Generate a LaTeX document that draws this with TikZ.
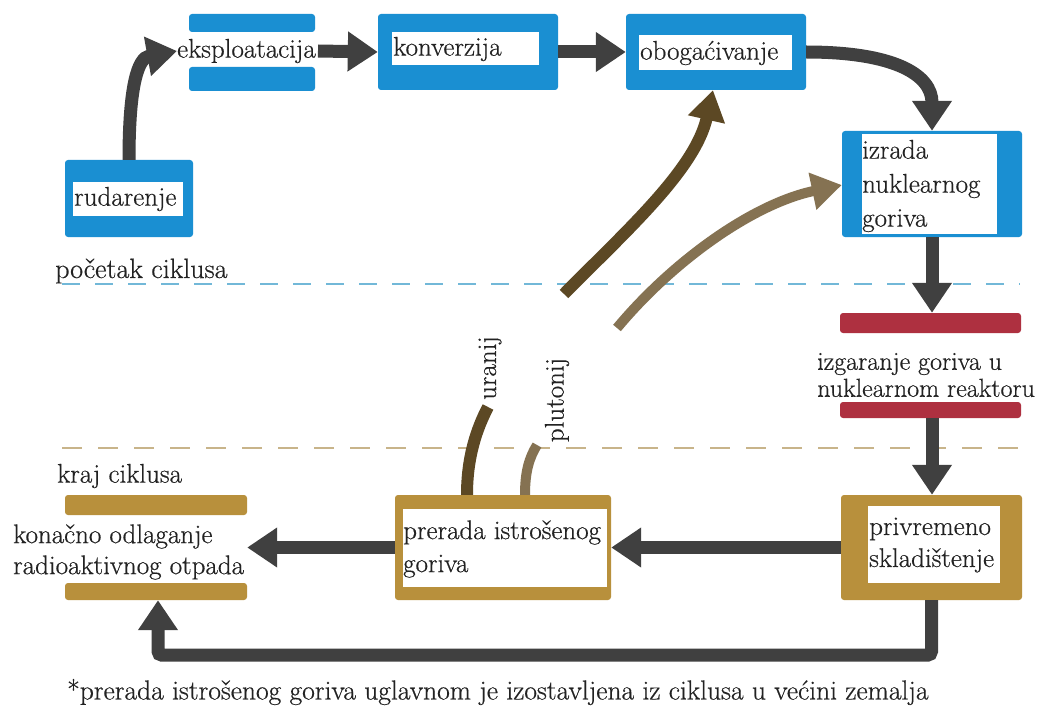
\documentclass[tikz,border=0pt]{standalone}
\usepackage{fontspec}
\setmainfont{Latin Modern Roman}[FakeBold=0.5]
\usetikzlibrary{arrows.meta}
\definecolor{cblue}{HTML}{1A8FD2}
\definecolor{cred}{HTML}{AE3040}
\definecolor{cgold}{HTML}{B8903C}
\definecolor{agray}{HTML}{404040}
\definecolor{ubrown}{HTML}{5C4824}
\definecolor{pbrown}{HTML}{857252}
\definecolor{dblue}{HTML}{72B8D8}
\definecolor{dtan}{HTML}{C8B48A}
\definecolor{ink}{HTML}{222222}
\tikzset{
  bluebox/.style={fill=cblue, rounded corners=3pt, inner sep=0pt},
  goldbox/.style={fill=cgold, rounded corners=3pt, inner sep=0pt},
  whitebox/.style={fill=white, inner sep=0pt},
  slot/.style={inner sep=0pt},
  txt/.style={inner sep=0pt, anchor=west, align=left, text=ink, font=\fontsize{27}{32}\selectfont},
  flow/.style={draw=agray, line width=13pt, -{Triangle[width=38pt,length=30pt]}},
  uflow/.style={draw=ubrown, line width=12pt},
  pflow/.style={draw=pbrown, line width=10pt},
  ahead/.style={-{Triangle[width=36pt,length=30pt]}},
}
\begin{document}
\begin{tikzpicture}[x=1pt,y=-1pt]
\useasboundingbox[fill=white] (0,0) rectangle (1049,714);
% dashed separators
\draw[dblue, line width=2pt, dash pattern=on 18pt off 15pt] (62,284) -- (1020,284);
\draw[dtan, line width=2pt, dash pattern=on 20pt off 16pt] (62,448) -- (1020,448);

% rudarenje
\node[bluebox, minimum width=128pt, minimum height=77pt] (rud) at (129,198.5) {};
\node[whitebox, minimum width=110pt, minimum height=34pt] (rudw) at (128,199) {};
\node[txt] (rudt) at (74,199) {rudarenje};

% eksploatacija
\fill[cblue, rounded corners=3pt] (189,14) rectangle (315,32);
\fill[cblue, rounded corners=3pt] (189,67) rectangle (315,91);
\node[txt] (eks) at (177,51) {eksploatacija};

% konverzija
\node[bluebox, minimum width=180pt, minimum height=76pt] (konv) at (468,52) {};
\node[whitebox, minimum width=147pt, minimum height=33pt] (konvw) at (465.5,48.5) {};
\node[txt] (konvt) at (393,49) {konverzija};

% obogacivanje
\node[bluebox, minimum width=180pt, minimum height=76pt] (obog) at (716,52) {};
\node[whitebox, minimum width=153pt, minimum height=35pt] (obogw) at (715.5,52.5) {};
\node[txt] (obogt) at (640,53) {obogaćivanje};

% izrada nuklearnog goriva
\node[bluebox, minimum width=180pt, minimum height=106pt] (izr) at (932,184) {};
\node[whitebox, minimum width=135pt, minimum height=100pt] (izrw) at (929.5,184) {};
\node[txt, font=\fontsize{27}{34}\selectfont] (izrt) at (862,186) {izrada\\nuklearnog\\goriva};

% pocetak ciklusa
\node[txt, font=\fontsize{28}{32}\selectfont] (poc) at (55,271) {početak ciklusa};

% izgaranje
\node[slot, minimum width=181pt, minimum height=105pt] (izg) at (932,365.5) {};
\fill[cred, rounded corners=3pt] (840,313) rectangle (1021,333);
\fill[cred, rounded corners=3pt] (840,402) rectangle (1021,418);
\node[txt, font=\fontsize{26}{27}\selectfont] (izgt) at (817,375) {izgaranje goriva u\\nuklearnom reaktoru};

% privremeno skladistenje
\node[goldbox, minimum width=181pt, minimum height=105pt] (priv) at (931.5,547.5) {};
\node[whitebox, minimum width=132pt, minimum height=77pt] (privw) at (934,544.5) {};
\node[txt] (privt) at (869,545) {privremeno\\skladištenje};

% prerada istrosenog goriva
\node[goldbox, minimum width=216pt, minimum height=105pt] (prer) at (503,547.5) {};
\node[whitebox, minimum width=204pt, minimum height=78pt] (prerw) at (505,548) {};
\node[txt, font=\fontsize{27}{33}\selectfont] (prert) at (403,549) {prerada istrošenog\\goriva};

% konacno odlaganje
\node[txt] (kraj) at (57,476) {kraj ciklusa};
\node[slot, minimum width=182pt, minimum height=105pt] (kon) at (156,547.5) {};
\fill[cgold, rounded corners=3pt] (65,495) rectangle (247,515);
\fill[cgold, rounded corners=3pt] (65,583) rectangle (247,600);
\node[txt, font=\fontsize{27}{31}\selectfont] (kont) at (13,552) {konačno odlaganje\\radioaktivnog otpada};

% footnote
\node[txt, font=\fontsize{27.5}{32}\selectfont] (foot) at (67,692) {*prerada istrošenog goriva uglavnom je izostavljena iz ciklusa u većini zemalja};

% main flow arrows
\draw[flow] (rud.north) .. controls (129,85) and (138,58) .. (eks.west);
\draw[flow] ([xshift=2pt]eks.east) -- (konv.west);
\draw[flow] (konv.east) -- (obog.west);
\draw[flow] (obog.east) .. controls (895,52) and (932,75) .. (izr.north);
\draw[flow] (izr.south) -- (izg.north);
\draw[flow] (izg.south) -- ([xshift=0.5pt]priv.north);
\draw[flow] (priv.west) -- (prer.east);
\draw[flow] (prer.west) -- (kon.east);
\draw[flow, rounded corners=4pt] (priv.south) -- ++(0,55) -| ([xshift=2pt]kon.south);

% uranij / plutonij
\coordinate (ulow) at (488,407);
\coordinate (uup) at (564,294);
\coordinate (plow) at (537,445);
\coordinate (pup) at (617,328);
\draw[uflow] ([xshift=-36pt]prer.north) .. controls (467,458) and (476,430) .. (ulow);
\draw[uflow, ahead] (uup) .. controls (625,232) and (695,170) .. ([xshift=-3pt]obog.south);
\draw[pflow] ([xshift=22pt]prer.north) .. controls (525,472) and (529,458) .. (plow);
\draw[pflow, ahead] (pup) .. controls (672,262) and (752,204) .. ([yshift=-1pt]izr.west);
\node[txt, anchor=center, rotate=90] (uran) at (490,368) {uranij};
\node[txt, anchor=center, rotate=90] (plut) at (557,400) {plutonij};
\end{tikzpicture}
\end{document}
